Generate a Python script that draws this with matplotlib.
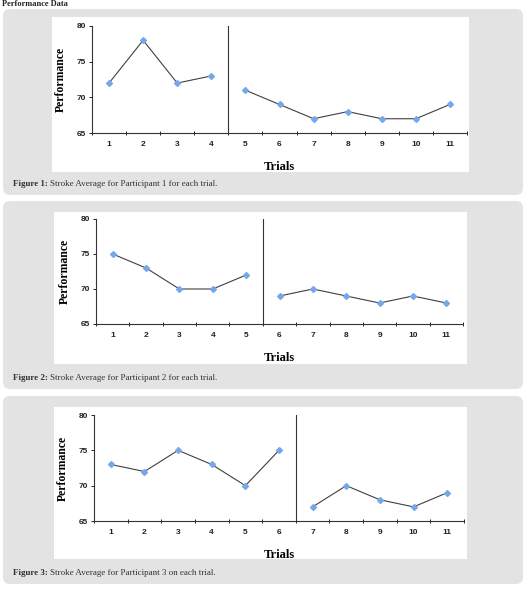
import matplotlib
matplotlib.use("Agg")
import matplotlib.pyplot as plt
from matplotlib.patches import FancyBboxPatch, Rectangle

W, H = 526, 598

trials = list(range(1, 12))
p1_scores = [72, 78, 72, 73, 71, 69, 67, 68, 67, 67, 69]
p2_scores = [75, 73, 70, 70, 72, 69, 70, 69, 68, 69, 68]
p3_scores = [73, 72, 75, 73, 70, 75, 67, 70, 68, 67, 69]
# number of trials before the phase change line
p1_split = 4
p2_split = 5
p3_split = 6
y_ticks = [65, 70, 75, 80]
captions = [
    ("Figure 1:", "Stroke Average for Participant 1 for each trial."),
    ("Figure 2:", "Stroke Average for Participant 2 for each trial."),
    ("Figure 3:", "Stroke Average for Participant 3 on each trial."),
]

# layout in pixels: gray box (top, bottom), white area (x0, x1, top, bottom), axes (left, right, top, bottom)
panels = [
    dict(box=(9, 195), white=(52, 469, 17, 172), ax=(92, 467, 26, 133), cap=184),
    dict(box=(201, 389), white=(54, 467, 212, 364), ax=(96, 463, 219, 324), cap=378),
    dict(box=(396, 584), white=(54, 467, 407, 559), ax=(94, 464, 415, 521), cap=573),
]

serif = "Liberation Serif"
sans = "Liberation Sans"

fig = plt.figure(figsize=(W / 100, H / 100), dpi=100)
fig.patch.set_facecolor("white")

# background layer drawn in pixel coordinates
bg = fig.add_axes([0, 0, 1, 1])
bg.set_xlim(0, W)
bg.set_ylim(H, 0)
bg.axis("off")

bg.text(2, 0.5, "Performance Data", family=serif, fontweight="bold",
        fontsize=6, va="top", ha="left", color="#222222")

series = [(p1_scores, p1_split), (p2_scores, p2_split), (p3_scores, p3_split)]

for panel, (scores, split), (cap_bold, cap_text) in zip(panels, series, captions):
    top, bottom = panel["box"]
    bg.add_patch(FancyBboxPatch((3, top), 520, bottom - top,
                                boxstyle="round,pad=0,rounding_size=7",
                                facecolor="#e3e3e3", edgecolor="none"))
    wx0, wx1, wt, wb = panel["white"]
    bg.add_patch(Rectangle((wx0, wt), wx1 - wx0, wb - wt,
                           facecolor="white", edgecolor="none"))
    t = bg.text(13, panel["cap"], cap_bold + " ", family=serif, fontweight="bold",
                fontsize=6.5, va="center", ha="left", color="#333333")
    fig.canvas.draw()
    bb = t.get_window_extent()
    x_after = bb.x1
    bg.text(x_after, H - panel["cap"], cap_text, family=serif, fontsize=6.5,
            va="center", ha="left", color="#333333", transform=None)

    l, r, at, ab = panel["ax"]
    ax = fig.add_axes([l / W, (H - ab) / H, (r - l) / W, (ab - at) / H])
    ax.patch.set_alpha(0)

    ax.plot(trials[:split], scores[:split], color="#404040", lw=0.8,
            marker="D", ms=3, mfc="#74a8ea", mec="#74a8ea")
    ax.plot(trials[split:], scores[split:], color="#404040", lw=0.8,
            marker="D", ms=3, mfc="#74a8ea", mec="#74a8ea")
    ax.axvline(split + 0.5, color="#333333", lw=0.8)

    ax.set_xlim(0.5, 11.5)
    ax.set_ylim(65, 80)
    ax.set_yticks(y_ticks)
    ax.set_xticks(trials)
    ax.set_xticks([t + 0.5 for t in range(0, 12)], minor=True)
    ax.tick_params(axis="x", which="major", length=0, pad=6)
    ax.tick_params(axis="x", which="minor", length=3, direction="inout", width=0.6)
    ax.tick_params(axis="y", length=2.5, width=0.6, pad=2)
    for lab in ax.get_xticklabels() + ax.get_yticklabels():
        lab.set_family(sans)
        lab.set_fontweight("bold")
        lab.set_fontsize(6)
        lab.set_color("#222222")

    for side in ["top", "right"]:
        ax.spines[side].set_visible(False)
    for side in ["left", "bottom"]:
        ax.spines[side].set_linewidth(0.8)
        ax.spines[side].set_color("#333333")

    ax.set_ylabel("Performance", family=serif, fontweight="bold", fontsize=8.5, labelpad=7)
    ax.set_xlabel("Trials", family=serif, fontweight="bold", fontsize=9, labelpad=9)

fig.savefig("out.png", dpi=100)
